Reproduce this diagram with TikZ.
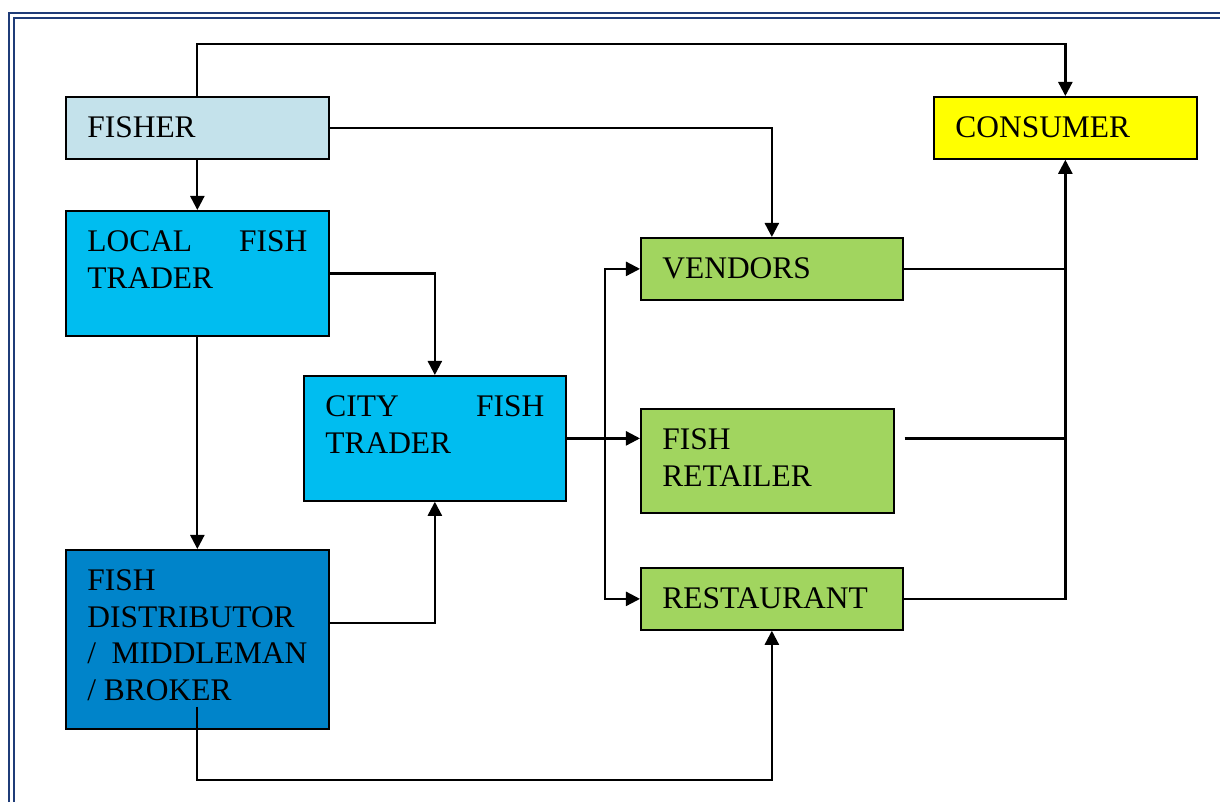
\documentclass[tikz,border=0pt]{standalone}
\usepackage{fontspec}
\setmainfont{Liberation Serif}
\usetikzlibrary{arrows.meta}
\definecolor{frameblue}{HTML}{1F3C78}
\definecolor{fisherfill}{HTML}{C4E2EB}
\definecolor{traderfill}{HTML}{00BDF0}
\definecolor{brokerfill}{HTML}{0084CA}
\definecolor{outletfill}{HTML}{A1D55F}
\definecolor{consumerfill}{HTML}{FFFF00}
\hyphenpenalty=10000
% text block of a box: width, height, text (set at the top)
\newcommand{\boxlabel}[3]{\parbox[t][#2][t]{#1}{#3}}

\begin{document}
\begin{tikzpicture}[x=0.02cm, y=-0.02cm,
  every node/.style={font=\fontsize{17.9}{20.8}\selectfont},
  box/.style={draw, line width=1pt, anchor=north west, inner xsep=0.43cm, inner ysep=0.4cm},
  conn/.style={line width=1.3pt, -{Triangle[length=8pt, width=8pt]}}]
\useasboundingbox (0,0) rectangle (1220,802);
% double page frame
\draw[frameblue, line width=1.7pt] (9,802) -- (9,13) -- (1220,13);
\draw[frameblue, line width=1.7pt] (14,802) -- (14,18) -- (1220,18);

% boxes
\node[box, fill=fisherfill] (fisher) at (65,96) {\boxlabel{4.40cm}{0.44cm}{FISHER}};
\node[box, fill=consumerfill] (consumer) at (933,96) {\boxlabel{4.40cm}{0.44cm}{CONSUMER}};
\node[box, fill=traderfill] (local) at (65,210) {\boxlabel{4.40cm}{1.70cm}{LOCAL FISH TRADER}};
\node[box, fill=traderfill] (city) at (303,375) {\boxlabel{4.38cm}{1.70cm}{CITY FISH TRADER}};
\node[box, fill=brokerfill] (broker) at (65,549) {\boxlabel{4.40cm}{2.78cm}{FISH DISTRIBUTOR / MIDDLEMAN / BROKER}};
\node[box, fill=outletfill] (vendors) at (640,237) {\boxlabel{4.38cm}{0.44cm}{VENDORS}};
\node[box, fill=outletfill] (retailer) at (640,408) {\boxlabel{4.20cm}{1.28cm}{FISH RETAILER}};
\node[box, fill=outletfill] (restaurant) at (640,567) {\boxlabel{4.38cm}{0.44cm}{RESTAURANT}};

% flows out of the fisher
\draw[conn] (fisher.north) -- ++(0,-52) -| (consumer.north);
\draw[conn] (fisher.east) -| (vendors.north);
\draw[conn] (fisher.south) -- (local.north);

% traders and broker
\draw[conn] (local.east) -| (city.north);
\draw[conn] (local.south) -- (broker.north);
\draw[conn] ([yshift=0.33cm]broker.east) -| (city.south);
\draw[conn] ([yshift=0.46cm]broker.south) -- ++(0,73) -| (restaurant.south);

% city trader to the outlets
\coordinate (hub) at ([xshift=0.76cm]city.east);
\draw[line width=1.3pt] (city.east) -- (hub);
\draw[conn] (hub) |- (vendors.west);
\draw[conn] (hub) -- (hub -| retailer.west);
\draw[conn] (hub) |- (restaurant.west);

% outlets to the consumer
\draw[line width=1.3pt] (vendors.east) -- (vendors.east -| consumer.south);
\draw[line width=1.3pt] ([xshift=0.2cm]hub -| retailer.east) -- (hub -| consumer.south);
\draw[conn] (restaurant.east) -| (consumer.south);
\end{tikzpicture}
\end{document}
